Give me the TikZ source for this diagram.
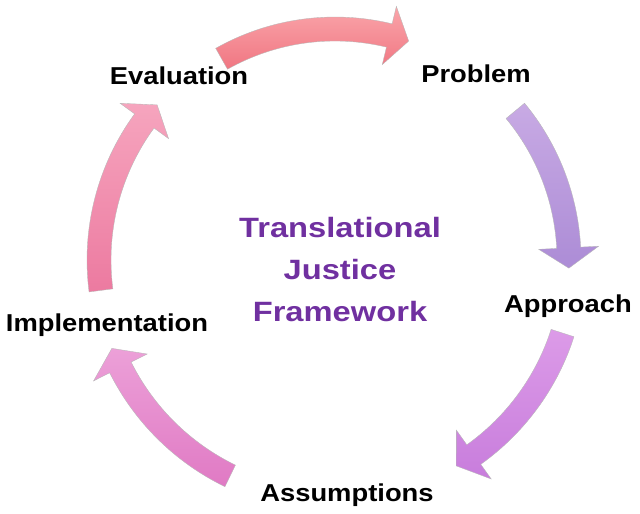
\documentclass[tikz,border=0pt]{standalone}
\usepackage{fontspec}
\usepackage{xcolor}
\usepackage{tikz}
\usetikzlibrary{positioning, calc}
\newfontfamily\lblfont[FakeStretch=1.12]{Liberation Sans}
\newfontfamily\titlefont[FakeStretch=1.17]{Liberation Sans}
% curved arrow on the cycle: #1 tail angle, #2 tip angle, #3 radius, #4 style
\newcommand{\cyclearrow}[4]{
    \shade[shift={(c)}, #4]
        (#1:#3-12) arc[start angle=#1, end angle=#2-5, radius=#3-12]
        -- (#2-5:#3-30) -- (#2:#3) -- (#2-5:#3+30)
        -- (#2-5:#3+12) arc[start angle=#2-5, end angle=#1, radius=#3+12]
        -- cycle;
}
\definecolor{TJPurple}{RGB}{112,48,160}
\definecolor{evalTop}{RGB}{250,165,170}
\definecolor{evalBot}{RGB}{240,118,130}
\definecolor{probTop}{RGB}{200,170,228}
\definecolor{probBot}{RGB}{172,140,214}
\definecolor{apprTop}{RGB}{220,155,232}
\definecolor{apprBot}{RGB}{200,125,220}
\definecolor{assuTop}{RGB}{236,160,216}
\definecolor{assuBot}{RGB}{224,122,196}
\definecolor{implTop}{RGB}{246,165,190}
\definecolor{implBot}{RGB}{236,122,160}
\tikzset{
    arrowbase/.style={
        draw=black!28, line width=0.4pt
    },
    steplabel/.style={
        font=\lblfont\bfseries\fontsize{27.8}{30}\selectfont, text=black, anchor=base, inner sep=0pt
    },
    titlelabel/.style={
        font=\titlefont\bfseries\fontsize{31.8}{47.8}\selectfont, text=TJPurple, align=center, inner sep=0pt
    }
}

\begin{document}
\begin{tikzpicture}[x=0.4mm, y=-0.4mm]
    \useasboundingbox (0,0) rectangle (640,514);
    \coordinate (c) at (335,260);

    % --- Arrows of the cycle ---
    \cyclearrow{-119.4}{-71.4}{231}{arrowbase, top color=evalTop, bottom color=evalBot}
    \cyclearrow{-39.6}{2}{234}{arrowbase, top color=probTop, bottom color=probBot}
    \cyclearrow{17.8}{59.5}{239}{arrowbase, top color=apprTop, bottom color=apprBot}
    \cyclearrow{115.9}{158.4}{240}{arrowbase, top color=assuTop, bottom color=assuBot}
    \cyclearrow{172.6}{221.1}{236}{arrowbase, top color=implTop, bottom color=implBot}

    % --- Labels ---
    \node[steplabel] (problem) at (476,83) {Problem};
    \node[steplabel] (approach) at (568,313) {Approach};
    \node[steplabel] (assumptions) at (347,501) {Assumptions};
    \node[steplabel] (implementation) at (107,332) {Implementation};
    \node[steplabel] (evaluation) at (179,85) {Evaluation};

    % --- Center title ---
    \node[titlelabel] (title) at (340,270) {Translational\\Justice\\Framework};
\end{tikzpicture}
\end{document}
